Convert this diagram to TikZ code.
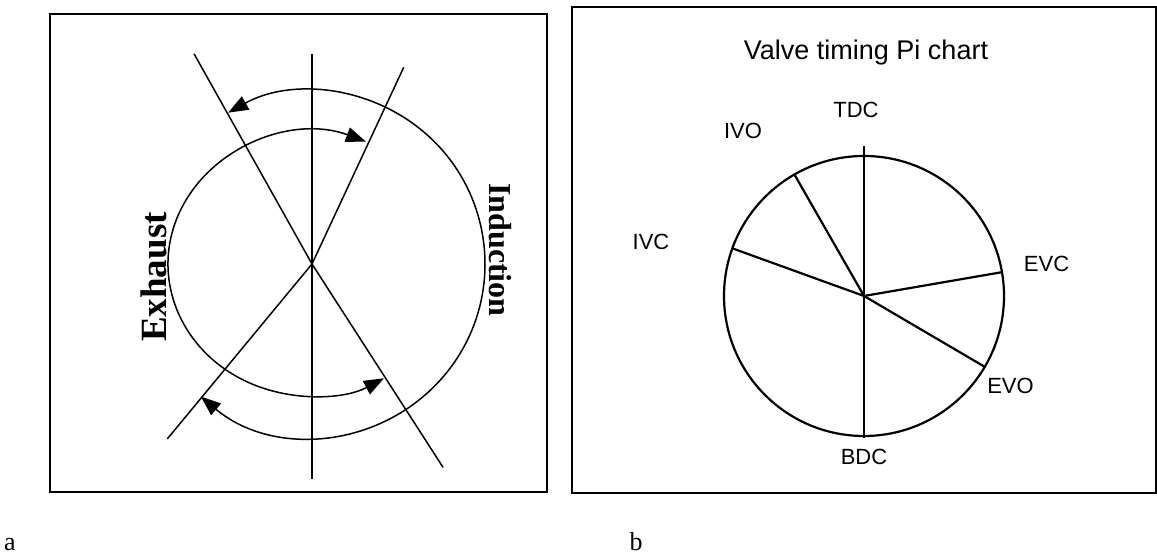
\documentclass[tikz,border=0pt]{standalone}
\usepackage{fontspec}
\setmainfont{Liberation Serif}
\setsansfont{Liberation Sans}
\usetikzlibrary{arrows.meta}

\begin{document}
\begin{tikzpicture}[x=1pt,y=1pt,
  box/.style={draw,line width=1.8pt},
  ray/.style={line width=1.5pt},
  arr/.style={{Triangle[length=20pt,width=15pt]}-{Triangle[length=20pt,width=15pt]},line width=1.5pt},
  big/.style={font=\fontsize{#1}{#1}\selectfont\bfseries,inner sep=0pt},
  lbl/.style={font=\sffamily\fontsize{22}{24}\selectfont,inner sep=0pt},
  tag/.style={font=\fontsize{26}{28}\selectfont,anchor=base,inner sep=0pt},
  seg/.style={line width=2.2pt}]
\useasboundingbox (0,0) rectangle (1157,556);
\draw[box] (50,64) rectangle (547,542);
\coordinate (c) at (312,292);
\foreach \n/\a/\r in {tdc/90/210,bdc/-90/215,tl/119.3/241,tr/65/217,br/-57.2/242,bl/230.4/227}
  \path (c) ++(\a:\r) coordinate (\n);
\foreach \n in {tdc,bdc,tl,tr,br,bl} \draw[ray] (c) -- (\n);
\draw[arr,shift={(c)}] (-130:173) arc[start angle=-130,end angle=119,radius=173];
\draw[arr,shift={(c)}] (68:144 and 132) arc[start angle=68,end angle=300,x radius=144,y radius=132];
\node[big=37,rotate=90] (exh) at (154,279) {Exhaust};
\node[big=32,rotate=-90] (ind) at (500,306) {Induction};
\node[tag] (a) at (10,5) {a};

\draw[box] (572,63) rectangle (1156,549);
\node[lbl,font=\sffamily\fontsize{27}{30}\selectfont,anchor=base] (title) at (866,496.5) {Valve timing Pi chart};
\coordinate (p) at (864,260);
\path (p) ++(0,150) coordinate (ptop) (p) ++(0,-142) coordinate (pbot);
\draw[line width=1.2pt] (ptop) -- (pbot);
\draw[seg] (p) circle[radius=140];
\foreach \n/\a in {ivo/119.8,ivc/160.1,evc/9.8,evo/-30.4}
  {\path (p) ++(\a:140) coordinate (\n);
   \draw[seg] (p) -- (\n);}
\node[lbl] (tdcl) at (856,446) {TDC};
\node[lbl] (ivol) at (743,425) {IVO};
\node[lbl] (ivcl) at (651,314.5) {IVC};
\node[lbl] (evcl) at (1046.6,292) {EVC};
\node[lbl] (evol) at (1010.5,170) {EVO};
\node[lbl] (bdcl) at (864,99.5) {BDC};
\node[tag] (b) at (636,5) {b};
\end{tikzpicture}
\end{document}
